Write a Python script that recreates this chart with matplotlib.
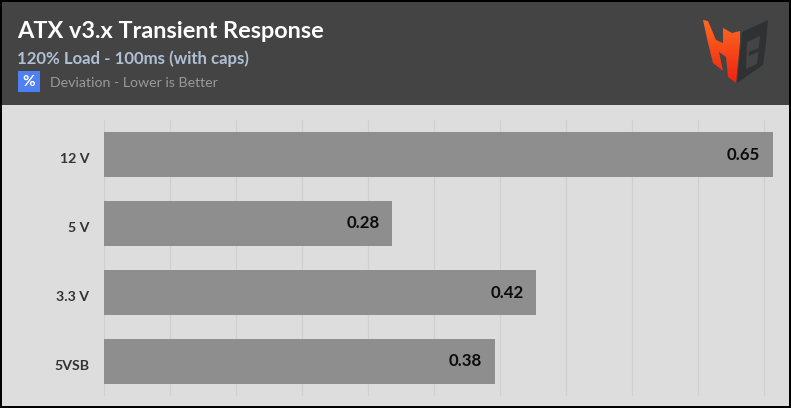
import numpy as np
import matplotlib
matplotlib.use("Agg")
import matplotlib.pyplot as plt
from matplotlib.patches import Polygon, Rectangle
from matplotlib.transforms import ScaledTranslation

# data
labels = ["12 V", "5 V", "3.3 V", "5VSB"]
values = [0.65, 0.28, 0.42, 0.38]
tick_step = 0.0642
n_ticks = 11

W, H = 791, 408
plt.rcParams["font.family"] = "Lato"

fig = plt.figure(figsize=(W/100, H/100), dpi=100, facecolor="black")

# whole-figure axes in pixel coordinates, for header and logo
bg = fig.add_axes([0, 0, 1, 1], zorder=0)
bg.set_xlim(0, W)
bg.set_ylim(H, 0)
bg.axis("off")
bg.add_patch(Rectangle((2, 2), 787, 103, fc="#444444", ec="none"))
bg.add_patch(Rectangle((2, 105), 787, 301, fc="#dddddd", ec="none"))

# header text
bg.text(17, 31, "ATX v3.x Transient Response", color="white", fontsize=16.9,
        fontweight="bold", va="center", ha="left")
bg.text(17, 59, "120% Load - 100ms (with caps)", color="#b0c0d4", fontsize=12.1,
        fontweight="bold", va="center", ha="left")
bg.add_patch(Rectangle((18, 71), 22, 21, fc="#4d80f5", ec="none"))
bg.text(29, 82.5, "%", color="white", fontsize=11, fontweight="bold", va="center", ha="center")
bg.text(50, 83, "Deviation - Lower is Better", color="#9a9a9a", fontsize=10.2,
        va="center", ha="left")

# logo, red part with a vertical gradient clipped to the letter shape
hb_h = [(703, 20), (708, 21), (716, 40), (723, 43), (723, 28), (732, 33),
        (740, 31), (740, 42), (736, 83), (728, 77), (726, 57), (719, 52),
        (723, 71), (713, 63), (708, 43)]
grad = np.linspace(0, 1, 64).reshape(-1, 1, 1)
top = np.array([1.0, 0.42, 0.13]).reshape(1, 1, 3)
bot = np.array([0.93, 0.13, 0.07]).reshape(1, 1, 3)
img = bg.imshow(top*(1-grad) + bot*grad, extent=(700, 742, 84, 20), aspect="auto", zorder=2)
clip = Polygon(hb_h, closed=True, transform=bg.transData, fc="none", ec="none")
bg.add_patch(clip)
img.set_clip_path(clip)
bg.set_xlim(0, W)
bg.set_ylim(H, 0)

hb_b = [(737, 83), (742, 32), (768, 20), (766, 43), (763, 65)]
bg.add_patch(Polygon(hb_b, closed=True, fc="#303133", ec="none", zorder=3))
bg.add_patch(Polygon([(747, 42), (760, 36), (757, 64), (746, 69)], closed=True,
                     fc="#444444", ec="none", zorder=4))
bg.add_patch(Polygon([(749, 52), (759, 48), (758, 52), (749, 56)], closed=True,
                     fc="#303133", ec="none", zorder=5))

# chart
ax = fig.add_axes([104.5/W, 1-396/H, (789-104.5)/W, 276/H], zorder=1)
ax.patch.set_alpha(0)
unit = 1028.0
ax.set_xlim(0, (789-104.5)/unit)
ax.set_ylim(3.5, -0.5)
ax.barh(labels, values, height=0.652, color="#8e8e8e", zorder=2)
ax.set_xticks(np.arange(n_ticks)*tick_step)
ax.grid(axis="x", color="#d0d0d0", linewidth=0.9, zorder=1)
ax.tick_params(axis="both", length=0, labelbottom=False)
ax.tick_params(axis="y", pad=11, labelsize=10.2, labelcolor="#333333")
shift = ScaledTranslation(0, -2.5/72, fig.dpi_scale_trans)
for lbl in ax.get_yticklabels():
    lbl.set_fontweight("bold")
    lbl.set_transform(lbl.get_transform() + shift)
for s in ax.spines.values():
    s.set_visible(False)

for i, v in enumerate(values):
    ax.text(v - 0.0125, i, "%.2f" % v, ha="right", va="center", color="#0c0c0c",
            fontsize=12.2, fontweight="bold", zorder=3)

fig.savefig("out.png", dpi=100, facecolor="black")
